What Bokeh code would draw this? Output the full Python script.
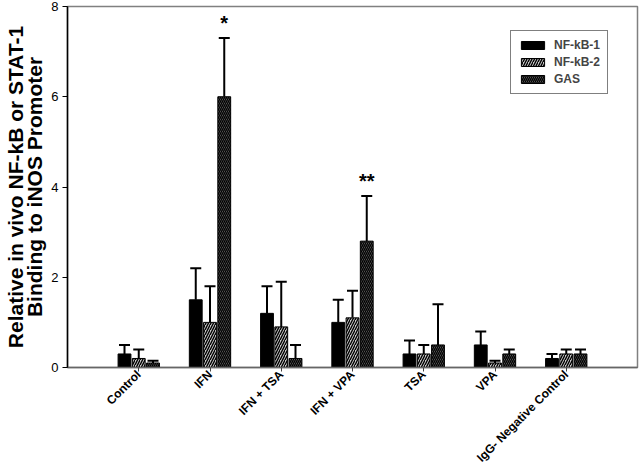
import numpy as np
from bokeh.plotting import figure
from bokeh.models import (ColumnDataSource, FixedTicker, Whisker, Legend, LegendItem,
                          LinearAxis)
from bokeh.core.properties import value
from bokeh.embed import file_html
from bokeh.resources import INLINE

categories = ["Control", "IFN", "IFN + TSA", "IFN + VPA", "TSA", "VPA", "IgG- Negative Control"]
series = ["NF-kB-1", "NF-kB-2", "GAS"]
nfkb1 = [0.3, 1.5, 1.2, 1.0, 0.3, 0.5, 0.2]
nfkb1_err = [0.2, 0.7, 0.6, 0.5, 0.3, 0.3, 0.1]
nfkb2 = [0.2, 1.0, 0.9, 1.1, 0.3, 0.1, 0.3]
nfkb2_err = [0.2, 0.8, 1.0, 0.6, 0.2, 0.05, 0.1]
gas = [0.1, 6.0, 0.2, 2.8, 0.5, 0.3, 0.3]
gas_err = [0.05, 1.3, 0.3, 1.0, 0.9, 0.1, 0.1]
significance = ["", "*", "", "**", "", "", ""]
y_ticks = [0, 2, 4, 6, 8]
y_title_lines = ["Relative in vivo NF-kB or STAT-1", "Binding to iNOS Promoter"]

FONT = "Liberation Sans"
xs = np.arange(1, len(categories) + 1)

p = figure(width=640, height=472, x_range=(0, 8), y_range=(0, 8),
           output_backend="svg", toolbar_location=None,
           min_border_left=65, min_border_right=3, min_border_top=6, min_border_bottom=100)
p.grid.visible = False
p.outline_line_color = "#808080"
p.outline_line_width = 1.5
p.background_fill_color = "white"
p.border_fill_color = "white"

offsets = [-0.2, 0.0, 0.2]
vals = [nfkb1, nfkb2, gas]
errs = [nfkb1_err, nfkb2_err, gas_err]
fills = ["black", "#c8c8c8", "#707070"]
hatches = [" ", "/", "\\"]
hscale = [1, 5, 4]
renderers = []
for i in range(3):
    top = np.array(vals[i])
    err = np.array(errs[i])
    src = ColumnDataSource(dict(x=xs + offsets[i], top=top, upper=top + err))
    r = p.vbar(x="x", top="top", width=0.18, source=src, fill_color=fills[i],
               line_color="black", line_width=1,
               hatch_pattern=hatches[i], hatch_color="black", hatch_scale=hscale[i],
               hatch_weight=1.4)
    renderers.append(r)
    w = Whisker(source=src, base="x", lower="top", upper="upper", dimension="height",
                line_color="black", line_width=2, lower_head=None)
    w.upper_head.size = 11
    w.upper_head.line_width = 2
    w.upper_head.line_color = "black"
    p.add_layout(w)

gsrc = ColumnDataSource(dict(x=xs + offsets[2], y=np.array(gas) + np.array(gas_err) + 0.1,
                             t=significance))
p.text(x="x", y="y", text="t", source=gsrc, text_align="center", text_baseline="bottom",
       text_font=value(FONT), text_font_size="20px", text_font_style="bold", text_color="black")

legend = Legend(items=[LegendItem(label=series[i], renderers=[renderers[i]]) for i in range(3)],
                location=(443, 273))
legend.label_text_font = FONT
legend.label_text_font_size = "12px"
legend.label_text_font_style = "bold"
legend.glyph_width = 29
legend.glyph_height = 10
legend.spacing = 3
legend.padding = 7
legend.margin = 0
legend.label_standoff = 7
legend.border_line_color = "black"
legend.border_line_width = 1
legend.label_height = 14
p.add_layout(legend, "center")

p.xaxis.ticker = FixedTicker(ticks=list(xs))
p.xaxis.major_label_overrides = {int(x): c for x, c in zip(xs, categories)}
p.xaxis.major_label_orientation = np.pi / 4
p.xaxis.major_label_text_font = FONT
p.xaxis.major_label_text_font_style = "bold"
p.xaxis.major_label_text_font_size = "12px"
p.xaxis.major_label_text_color = "black"
p.xaxis.major_label_standoff = 1
p.xaxis.axis_line_color = "#666666"
p.xaxis.axis_line_width = 1.5
p.xaxis.major_tick_line_color = "#444444"
p.xaxis.major_tick_out = 4
p.xaxis.major_tick_in = 0
p.xaxis.minor_tick_line_color = None

yaxis = p.yaxis[0]
yaxis.ticker = FixedTicker(ticks=y_ticks)
yaxis.major_label_text_font = FONT
yaxis.major_label_text_font_size = "13px"
yaxis.major_label_text_color = "black"
yaxis.major_label_standoff = 4
yaxis.axis_line_color = "black"
yaxis.axis_line_width = 1.5
yaxis.major_tick_out = 5
yaxis.major_tick_in = 0
yaxis.minor_tick_line_color = None
yaxis.axis_label = y_title_lines[1]
yaxis.axis_label_text_font = FONT
yaxis.axis_label_text_font_style = "bold"
yaxis.axis_label_text_font_size = "21px"
yaxis.axis_label_text_color = "black"
yaxis.axis_label_standoff = 2

# outer (first) line of the y title, as a tick-less axis so the two lines sit close
outer = LinearAxis(ticker=FixedTicker(ticks=[]), axis_line_color=None,
                   major_tick_line_color=None, minor_tick_line_color=None,
                   major_tick_out=0, major_tick_in=0, major_label_text_font_size="1px",
                   axis_label=y_title_lines[0], axis_label_text_font=FONT,
                   axis_label_text_font_style="bold", axis_label_text_font_size="21px",
                   axis_label_text_color="black", axis_label_standoff=-6)
p.add_layout(outer, "left")

open("out.html", "w").write(file_html(p, INLINE))
